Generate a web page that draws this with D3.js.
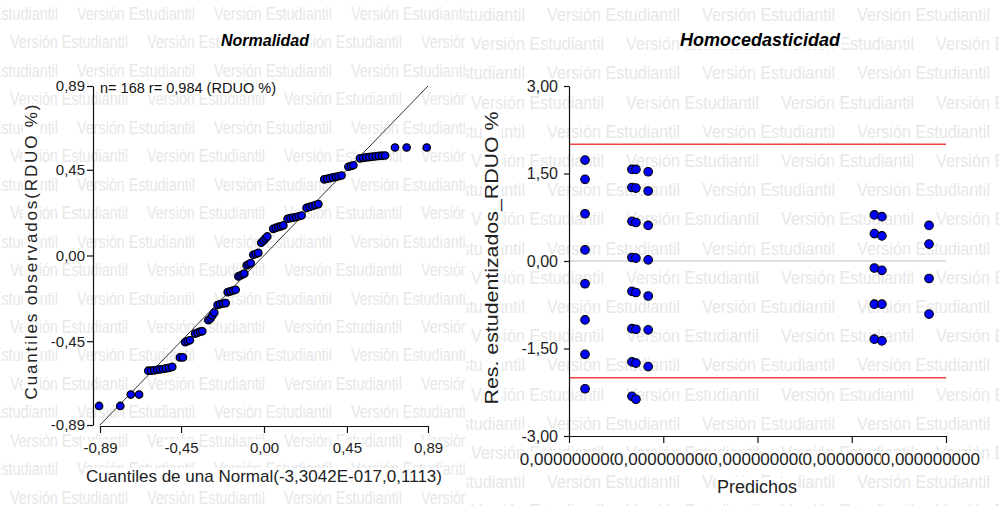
<!DOCTYPE html>
<html><head><meta charset="utf-8">
<script src="https://cdn.jsdelivr.net/npm/d3@7"></script>
<style>
body{margin:0;background:#fff}
svg{display:block}
text{font-family:"Liberation Sans",Arial,sans-serif}
</style>
</head><body>
<svg id="chart" width="999" height="506"></svg>
<script>
// ---------------- DATA ----------------
// Q-Q plot (Normalidad): theoretical normal quantiles and observed residual quantiles
const qqTheoretical = [
  -0.895,-0.78,
  -0.723,-0.678,
  -0.628,-0.612,-0.596,-0.58,-0.564,-0.548,-0.532,-0.515,-0.498,
  -0.456,-0.44,
  -0.428,-0.415,-0.402,
  -0.374,-0.36,-0.347,-0.335,
  -0.302,-0.29,-0.28,-0.27,
  -0.252,-0.238,-0.222,-0.208,
  -0.197,-0.183,-0.168,-0.154,
  -0.139,-0.128,-0.117,-0.107,
  -0.094,-0.083,-0.072,
  -0.058,-0.045,-0.031,
  -0.015,-0.003,0.008,0.018,
  0.05,0.064,0.078,0.091,0.105,
  0.128,0.143,0.158,0.174,0.189,0.204,
  0.231,0.247,0.263,0.279,0.295,
  0.327,0.343,0.358,0.374,0.39,0.405,0.421,
  0.458,0.472,0.485,
  0.521,0.538,0.555,0.572,0.589,0.606,0.623,0.64,0.657,
  0.711,0.774,0.883
];
const qqObserved = [
  -0.79,-0.79,
  -0.73,-0.73,
  -0.605,-0.605,-0.603,-0.60,-0.598,-0.596,-0.593,-0.59,-0.585,
  -0.535,-0.535,
  -0.455,-0.45,-0.445,
  -0.41,-0.405,-0.40,-0.398,
  -0.34,-0.33,-0.315,-0.30,
  -0.26,-0.255,-0.252,-0.25,
  -0.192,-0.188,-0.184,-0.18,
  -0.11,-0.105,-0.10,-0.095,
  -0.052,-0.046,-0.04,
  0.004,0.008,0.014,
  0.067,0.078,0.09,0.10,
  0.14,0.145,0.15,0.153,0.158,
  0.193,0.196,0.199,0.202,0.206,0.21,
  0.25,0.255,0.26,0.265,0.27,
  0.40,0.403,0.406,0.41,0.413,0.416,0.42,
  0.466,0.47,0.474,
  0.51,0.513,0.515,0.517,0.519,0.521,0.523,0.524,0.525,
  0.567,0.567,0.567
];
const qqTicks = [-0.89, -0.45, 0, 0.45, 0.89];
const qqTickLabels = ["-0,89", "-0,45", "0,00", "0,45", "0,89"];

// Residual plot (Homocedasticidad): predicted values and studentized residuals
const predicted = [
  1.7e-11,1.7e-11,1.7e-11,1.7e-11,1.7e-11,1.7e-11,1.7e-11,1.7e-11,
  6.68e-11,6.68e-11,6.68e-11,6.68e-11,6.68e-11,6.68e-11,6.68e-11,6.68e-11,
  7.1e-11,7.1e-11,7.1e-11,7.1e-11,7.1e-11,7.1e-11,7.1e-11,7.1e-11,
  8.4e-11,8.4e-11,8.4e-11,8.4e-11,8.4e-11,8.4e-11,8.4e-11,
  3.24e-10,3.24e-10,3.24e-10,3.24e-10,3.24e-10,
  3.32e-10,3.32e-10,3.32e-10,3.32e-10,3.32e-10,
  3.82e-10,3.82e-10,3.82e-10,3.82e-10
];
const residuals = [
  1.73,1.40,0.81,0.19,-0.39,-1.01,-1.60,-2.19,
  1.57,1.26,0.68,0.06,-0.52,-1.16,-1.73,-2.32,
  1.57,1.25,0.66,0.05,-0.54,-1.17,-1.75,-2.37,
  1.53,1.20,0.61,0.02,-0.60,-1.18,-1.81,
  0.79,0.47,-0.12,-0.74,-1.34,
  0.76,0.43,-0.16,-0.74,-1.37,
  0.61,0.29,-0.30,-0.91
];
const resTicks = [-3, -1.5, 0, 1.5, 3];
const resTickLabels = ["-3,00", "-1,50", "0,00", "1,50", "3,00"];
const predTicks = [0, 1e-10, 2e-10, 3e-10, 4e-10];
const limitLines = [2, -2];
const zeroLine = [0];

const watermarkText = "Versión Estudiantil";

// ---------------- DRAW ----------------
const svg = d3.select("#chart");
const FONT = '"Liberation Sans", Arial, sans-serif';

const defs = svg.append("defs");
defs.append("clipPath").attr("id","clipL").append("rect").attr("x",0).attr("y",0).attr("width",466).attr("height",506);
defs.append("clipPath").attr("id","clipR").append("rect").attr("x",466).attr("y",0).attr("width",533).attr("height",506);

// watermark
function watermark(clip, y0, dy, xEven, xOdd, period, size, len) {
  const g = svg.append("g").attr("clip-path", `url(#${clip})`);
  for (let i = 0; i < 18; i++) {
    const start = (i % 2 === 0) ? xEven : xOdd;
    for (let k = -1; k < 4; k++) {
      g.append("text")
        .attr("x", start + k * period)
        .attr("y", y0 + i * dy)
        .attr("font-size", size)
        .attr("fill", "#e7e7e7")
        .attr("textLength", len)
        .attr("lengthAdjust", "spacingAndGlyphs")
        .text(watermarkText);
    }
  }
}
watermark("clipL", 20, 28.45, 77, 10, 137, 17.5, 118);
watermark("clipR", 21, 29.2, 547, 471, 155, 18, 133);

function addBg(sel, pad = 1) {
  sel.each(function () {
    const b = this.getBBox();
    const t = d3.select(this).attr("transform");
    const r = d3.select(this.parentNode).insert("rect", () => this)
      .attr("x", b.x - pad).attr("y", b.y + 1).attr("width", b.width + 2 * pad).attr("height", b.height - 2)
      .attr("fill", "#fff");
    if (t) r.attr("transform", t);
  });
}

// ===== LEFT PANEL: Normalidad =====
const xq = d3.scaleLinear().domain([-0.89, 0.89]).range([100, 428]);
const yq = d3.scaleLinear().domain([-0.89, 0.89]).range([425, 86]);

svg.append("line")
  .attr("x1", xq(-0.89)).attr("y1", yq(-0.89))
  .attr("x2", xq(0.89)).attr("y2", yq(0.89))
  .attr("stroke", "#333").attr("stroke-width", 1);

const gxL = svg.append("g").attr("transform", "translate(0,426)")
  .call(d3.axisBottom(xq).tickValues(qqTicks).tickFormat((d, i) => qqTickLabels[i]).tickSize(7).tickSizeOuter(0).tickPadding(9));
const gyL = svg.append("g").attr("transform", "translate(93,0)")
  .call(d3.axisLeft(yq).tickValues(qqTicks).tickFormat((d, i) => qqTickLabels[i]).tickSize(6).tickSizeOuter(0).tickPadding(2));
[gxL, gyL].forEach(g => {
  g.selectAll("path,line").attr("stroke", "#111").attr("stroke-width", 1.2);
  g.selectAll("text").attr("font-size", 15).attr("font-family", FONT).attr("fill", "#222");
  addBg(g.selectAll("text"));
});

const qqPts = qqTheoretical.map((q, i) => [q, qqObserved[i]]);
svg.append("g").selectAll("circle").data(qqPts).join("circle")
  .attr("cx", d => xq(d[0])).attr("cy", d => yq(d[1])).attr("r", 3.7)
  .attr("fill", "#0000ff").attr("stroke", "#000").attr("stroke-width", 1.3);

const tL = svg.append("text").attr("x", 265).attr("y", 46).attr("text-anchor", "middle")
  .attr("font-size", 16).attr("font-weight", "bold").attr("font-style", "italic").attr("fill", "#000").text("Normalidad");
addBg(tL);
const ann = svg.append("text").attr("x", 100).attr("y", 93).attr("font-size", 14).attr("fill", "#111")
  .attr("textLength", 176).attr("lengthAdjust", "spacingAndGlyphs")
  .text("n= 168 r= 0,984 (RDUO %)");
addBg(ann);
const xtL = svg.append("text").attr("x", 264).attr("y", 482).attr("text-anchor", "middle")
  .attr("font-size", 17).attr("fill", "#222").attr("textLength", 356).attr("lengthAdjust", "spacing")
  .text("Cuantiles de una Normal(-3,3042E-017,0,1113)");
addBg(xtL);
const ytL = svg.append("text").attr("transform", "translate(37,252) rotate(-90)").attr("text-anchor", "middle")
  .attr("font-size", 17).attr("fill", "#222").attr("textLength", 295).attr("lengthAdjust", "spacing")
  .text("Cuantiles observados(RDUO %)");
addBg(ytL);

// ===== RIGHT PANEL: Homocedasticidad =====
const xr = d3.scaleLinear().domain([0, 4e-10]).range([569, 946]);
const yr = d3.scaleLinear().domain([-3, 3]).range([436, 86]);

svg.append("g").selectAll("line.zero").data(zeroLine).join("line")
  .attr("x1", 569).attr("x2", xr(4e-10)).attr("y1", d => yr(d)).attr("y2", d => yr(d))
  .attr("stroke", "#d4d4d4").attr("stroke-width", 1.5);
svg.append("g").selectAll("line.lim").data(limitLines).join("line")
  .attr("x1", 569).attr("x2", xr(4e-10)).attr("y1", d => yr(d)).attr("y2", d => yr(d))
  .attr("stroke", "#f04040").attr("stroke-width", 1.5);

const fmt = d3.format(".9f");
const gxR = svg.append("g").attr("transform", "translate(0,436)")
  .call(d3.axisBottom(xr).tickValues(predTicks).tickFormat(d => fmt(d).replace(".", ",")).tickSize(7).tickSizeOuter(0).tickPadding(10));
const gyR = svg.append("g").attr("transform", "translate(569,0)")
  .call(d3.axisLeft(yr).tickValues(resTicks).tickFormat((d, i) => resTickLabels[i]).tickSize(5).tickSizeOuter(0).tickPadding(6));
gxR.selectAll("text").attr("font-size", 17);
gyR.selectAll("text").attr("font-size", 16);
[gxR, gyR].forEach(g => {
  g.selectAll("path,line").attr("stroke", "#111").attr("stroke-width", 1.2);
  g.selectAll("text").attr("font-family", FONT).attr("fill", "#222");
});
gxR.selectAll(".tick").each(function () {
  const tx = +d3.select(this).attr("transform").match(/translate\(([^,]+)/)[1];
  const t = d3.select(this).select("text");
  const w = t.node().getComputedTextLength();
  const maxRight = 980;
  if (tx + w / 2 > maxRight) t.attr("x", maxRight - w / 2 - tx);
});
addBg(gxR.selectAll("text"), 0);
addBg(gyR.selectAll("text"));

svg.append("g").selectAll("circle").data(predicted.map((p, i) => [p, residuals[i]])).join("circle")
  .attr("cx", d => xr(d[0])).attr("cy", d => yr(d[1])).attr("r", 4.3)
  .attr("fill", "#0000ff").attr("stroke", "#000").attr("stroke-width", 1.1);

const tR = svg.append("text").attr("x", 760).attr("y", 46).attr("text-anchor", "middle")
  .attr("font-size", 18).attr("font-weight", "bold").attr("font-style", "italic").attr("fill", "#000").text("Homocedasticidad");
addBg(tR);
const xtR = svg.append("text").attr("x", 757).attr("y", 493).attr("text-anchor", "middle")
  .attr("font-size", 18).attr("fill", "#222").text("Predichos");
addBg(xtR);
const ytR = svg.append("text").attr("transform", "translate(498,258) rotate(-90)").attr("text-anchor", "middle")
  .attr("font-size", 19).attr("fill", "#222").attr("textLength", 293).attr("lengthAdjust", "spacingAndGlyphs")
  .text("Res. estudentizados_RDUO %");
addBg(ytR);
</script>
</body></html>
